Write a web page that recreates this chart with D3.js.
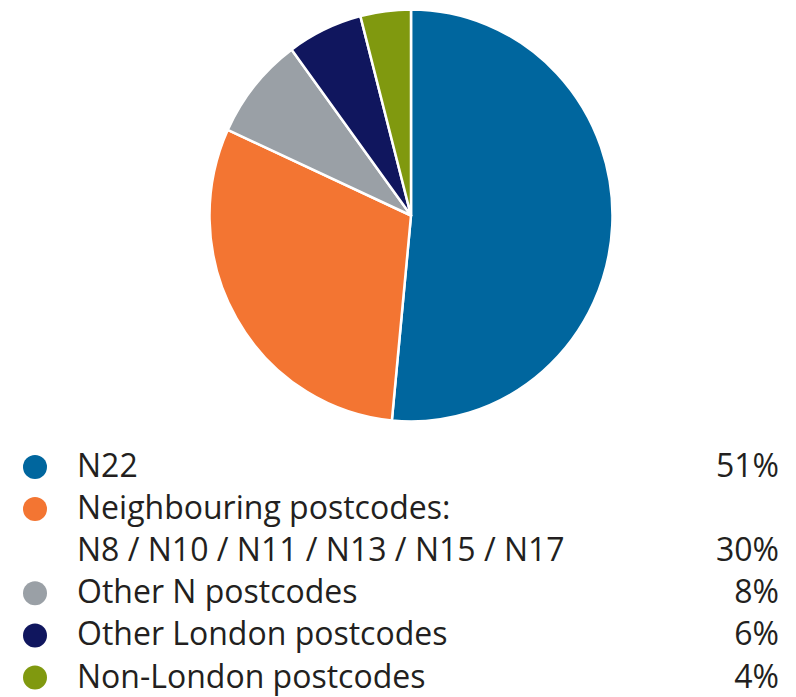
<!DOCTYPE html>
<html>
<head>
<meta charset="utf-8">
<script src="https://cdn.jsdelivr.net/npm/d3@7/dist/d3.min.js"></script>
<style>
  html, body { margin: 0; padding: 0; background: #fff; }
  svg { display: block; }
  text { font-family: "Open Sans", "Noto Sans", sans-serif; fill: #231f20; }
</style>
</head>
<body>
<svg id="chart" width="796" height="697"></svg>
<script>
// Postcode share of visitors
const categories = ["N22", "Neighbouring postcodes:", "Other N postcodes", "Other London postcodes", "Non-London postcodes"];
const subLabels = ["", "N8 / N10 / N11 / N13 / N15 / N17", "", "", ""];
const values = [51, 30, 8, 6, 4];
const colors = ["#00669e", "#f37532", "#9aa0a6", "#10165e", "#80990f"];

const svg = d3.select("#chart");
const cx = 411, cy = 215.5, rx = 201.5, ry = 206;

const pie = d3.pie().sort(null).value(d => d)(values);
const arc = d3.arc().innerRadius(0).outerRadius(rx);

svg.append("g")
  .attr("transform", `translate(${cx},${cy}) scale(1,${ry / rx})`)
  .selectAll("path")
  .data(pie)
  .join("path")
  .attr("d", arc)
  .attr("fill", (d, i) => colors[i])
  .attr("stroke", "#fff")
  .attr("stroke-width", 2.5)
  .attr("stroke-linejoin", "round");

// Legend rows; the second category wraps onto two lines
const rowH = 42.1;
const rowStart = 467;
const rowIndex = [0, 1, 3, 4, 5];
const fontSize = 32;
const baselineOffset = 10;

const legend = svg.append("g");
categories.forEach((c, i) => {
  const y = rowStart + rowIndex[i] * rowH;
  legend.append("circle")
    .attr("cx", 35).attr("cy", y).attr("r", 12)
    .attr("fill", colors[i]);
  legend.append("text")
    .attr("x", 77).attr("y", y + baselineOffset)
    .attr("font-size", fontSize)
    .text(c);
  const pctRow = subLabels[i] ? rowIndex[i] + 1 : rowIndex[i];
  if (subLabels[i]) {
    legend.append("text")
      .attr("x", 77).attr("y", rowStart + pctRow * rowH + baselineOffset)
      .attr("font-size", fontSize)
      .text(subLabels[i]);
  }
  legend.append("text")
    .attr("x", 779).attr("y", rowStart + pctRow * rowH + baselineOffset)
    .attr("text-anchor", "end")
    .attr("font-size", fontSize)
    .text(values[i] + "%");
});
</script>
</body>
</html>
